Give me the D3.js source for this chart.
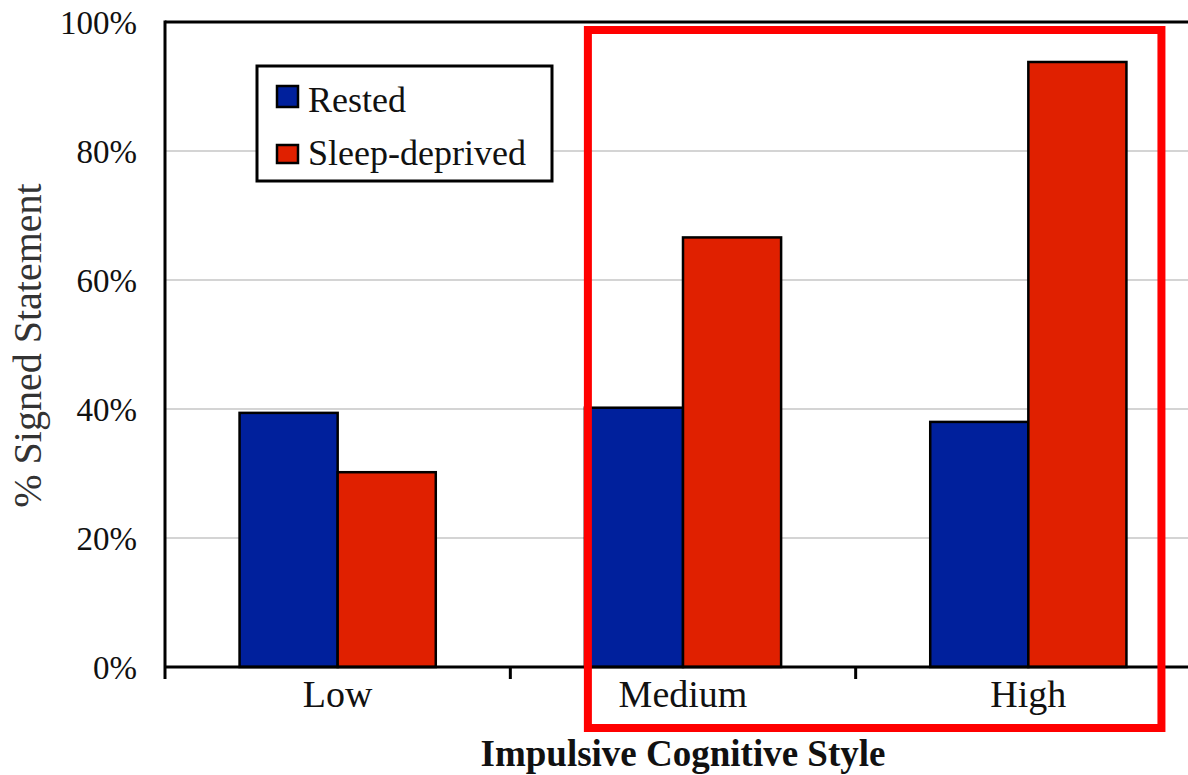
<!DOCTYPE html>
<html>
<head>
<meta charset="utf-8">
<script src="https://cdn.jsdelivr.net/npm/d3@7"></script>
<style>
  html, body { margin: 0; padding: 0; background: #fff; }
  svg { display: block; }
</style>
</head>
<body>
<svg id="chart" width="1188" height="775"></svg>
<script>
// ---- data ----
const categories = ["Low", "Medium", "High"];
const seriesNames = ["Rested", "Sleep-deprived"];
const rested = [39.4, 40.2, 38.0];
const sleepDeprived = [30.2, 66.6, 93.8];
const yTicks = [0, 20, 40, 60, 80, 100];
const seriesColors = ["#00209c", "#e02000"];
const xTitle = "Impulsive Cognitive Style";
const yTitle = "% Signed Statement";

const seriesValues = [rested, sleepDeprived];
const rows = categories.map((c, i) => ({
  category: c,
  values: seriesNames.map((s, j) => ({ series: s, value: seriesValues[j][i] }))
}));

const SERIF = "'Liberation Serif', 'Times New Roman', Times, serif";

// ---- layout ----
const svg = d3.select("#chart").attr("font-family", SERIF);
const plot = { left: 165, right: 1201, top: 22, bottom: 667 };

const x = d3.scaleBand().domain(categories).range([plot.left, plot.right]).padding(0);
const xs = d3.scaleBand().domain(seriesNames).range([0, x.bandwidth()]).paddingInner(0).paddingOuter(0.76);
const y = d3.scaleLinear().domain([0, 100]).range([plot.bottom, plot.top]);
const color = d3.scaleOrdinal().domain(seriesNames).range(seriesColors);

// gridlines
svg.append("g")
  .selectAll("line")
  .data(yTicks.filter(t => t > 0 && t < 100))
  .join("line")
  .attr("x1", plot.left).attr("x2", plot.right)
  .attr("y1", d => y(d)).attr("y2", d => y(d))
  .attr("stroke", "#d4d4d4").attr("stroke-width", 2);

// top border
svg.append("line")
  .attr("x1", plot.left).attr("x2", plot.right)
  .attr("y1", y(100)).attr("y2", y(100))
  .attr("stroke", "#000").attr("stroke-width", 3);

// bars
const groups = svg.append("g").selectAll("g")
  .data(rows).join("g")
  .attr("transform", d => `translate(${x(d.category)},0)`);

groups.selectAll("rect")
  .data(d => d.values).join("rect")
  .attr("x", d => xs(d.series))
  .attr("width", xs.bandwidth())
  .attr("y", d => y(d.value))
  .attr("height", d => y(0) - y(d.value))
  .attr("fill", d => color(d.series))
  .attr("stroke", "#000").attr("stroke-width", 2.5);

// y axis
const yAxis = svg.append("g")
  .attr("transform", `translate(${plot.left},0)`)
  .call(d3.axisLeft(y).tickValues(yTicks).tickFormat(d => d + "%").tickSize(0).tickPadding(28));
yAxis.attr("font-family", SERIF).attr("font-size", 33);
yAxis.select(".domain").remove();
yAxis.selectAll("text")
  .style("font-family", SERIF)
  .style("font-size", "33px").attr("fill", "#111").attr("dy", "0.34em");
svg.append("line")
  .attr("x1", plot.left).attr("x2", plot.left)
  .attr("y1", plot.top - 1.5).attr("y2", plot.bottom + 12)
  .attr("stroke", "#000").attr("stroke-width", 3);

// x axis
const xAxis = svg.append("g")
  .attr("transform", `translate(0,${plot.bottom})`)
  .call(d3.axisBottom(x).tickSize(0).tickPadding(40));
xAxis.attr("font-family", SERIF).attr("font-size", 38);
xAxis.select(".domain").remove();
xAxis.selectAll("text")
  .style("font-family", SERIF)
  .style("font-size", "38px").attr("fill", "#111").attr("dy", "0");
svg.append("line")
  .attr("x1", plot.left).attr("x2", plot.right)
  .attr("y1", plot.bottom).attr("y2", plot.bottom)
  .attr("stroke", "#000").attr("stroke-width", 3);
// category separator ticks
svg.append("g").selectAll("line")
  .data(categories.slice(1)).join("line")
  .attr("x1", d => x(d)).attr("x2", d => x(d))
  .attr("y1", plot.bottom).attr("y2", plot.bottom + 12)
  .attr("stroke", "#000").attr("stroke-width", 3);

// axis titles
svg.append("text")
  .attr("x", (plot.left + plot.right) / 2)
  .attr("y", 766)
  .attr("text-anchor", "middle")
  .attr("fill", "#111")
  .style("font-family", SERIF)
  .style("font-size", "37px").style("font-weight", "bold")
  .text(xTitle);

svg.append("text")
  .attr("transform", `translate(41,${(plot.top + plot.bottom) / 2 + 1}) rotate(-90)`)
  .attr("text-anchor", "middle")
  .attr("fill", "#333")
  .style("font-family", SERIF)
  .style("font-size", "40px")
  .text(yTitle);

// legend
const legend = svg.append("g").attr("transform", "translate(257,66)");
legend.append("rect")
  .attr("width", 295).attr("height", 115)
  .attr("fill", "#fff").attr("stroke", "#000").attr("stroke-width", 3);
const li = legend.selectAll("g.item").data(seriesNames).join("g")
  .attr("class", "item")
  .attr("transform", (d, i) => `translate(20,${20 + i * 58})`);
li.append("rect")
  .attr("width", 21).attr("height", (d, i) => i === 0 ? 21 : 18)
  .attr("y", (d, i) => i === 0 ? 0 : 1)
  .attr("fill", d => color(d)).attr("stroke", "#000").attr("stroke-width", 2.5);
li.append("text")
  .attr("x", 31).attr("y", (d, i) => i === 0 ? 26 : 21)
  .attr("fill", "#111")
  .style("font-family", SERIF)
  .style("font-size", "36px")
  .text(d => d);

// red highlight box around Medium and High
const hlLeft = x("Medium") + xs("Rested") + 3;
const hlRight = x("High") + xs("Sleep-deprived") + xs.bandwidth() + 35;
svg.append("rect")
  .attr("x", hlLeft).attr("y", y(100) + 8)
  .attr("width", hlRight - hlLeft)
  .attr("height", (y(0) + 61) - (y(100) + 8))
  .attr("fill", "none").attr("stroke", "#ff0000").attr("stroke-width", 8);
</script>
</body>
</html>
